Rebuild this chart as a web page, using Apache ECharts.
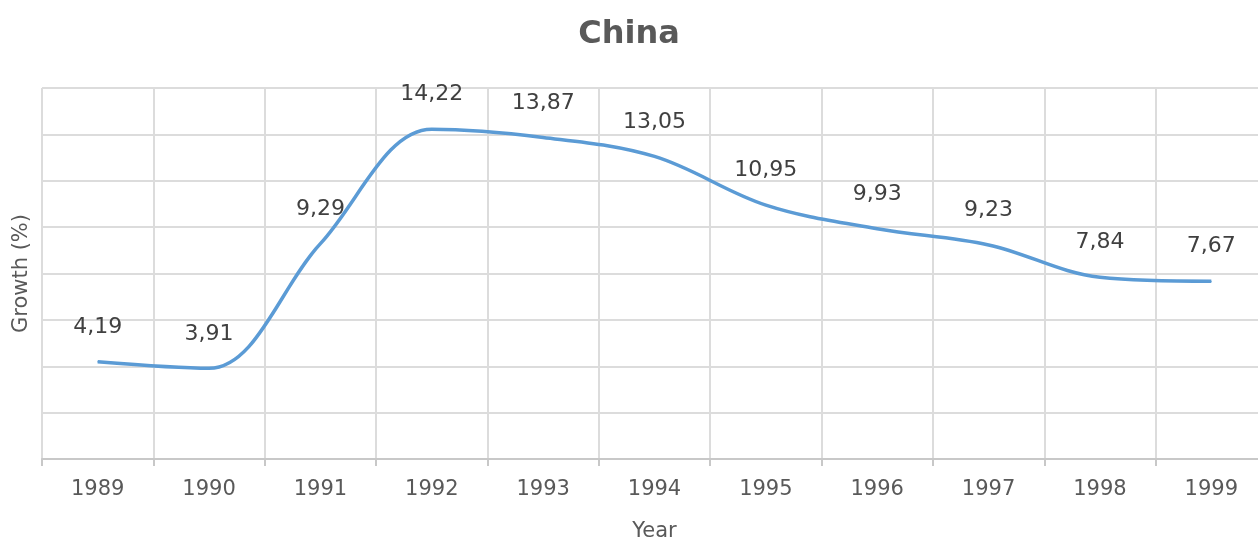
<!DOCTYPE html>
<html>
<head>
<meta charset="utf-8">
<script src="https://cdn.jsdelivr.net/npm/echarts@6/dist/echarts.min.js"></script>
<style>
    html, body { margin: 0; padding: 0; background: #fff; }
    #chart_line { width: 1258px; height: 541px; }
</style>
</head>
<body>
<div id="chart_line"></div>
<script>
// 数据
var years = ['1989', '1990', '1991', '1992', '1993', '1994', '1995', '1996', '1997', '1998', '1999'];
var growth = [4.19, 3.91, 9.29, 14.22, 13.87, 13.05, 10.95, 9.93, 9.23, 7.84, 7.67];

var chart = echarts.init(document.getElementById('chart_line'));

var font = 'DejaVu Sans';

var option = {
    animation: false,
    title: {
        text: 'China',
        left: 'center',
        top: 14,
        textStyle: {
            fontFamily: font,
            fontSize: 32,
            fontWeight: 'bold',
            color: '#595959'
        }
    },
    // 绘图区 (右侧超出画布)
    grid: {
        left: 42,
        top: 88,
        width: 1225,
        bottom: 82,
        outerBoundsMode: 'none'
    },
    xAxis: {
        type: 'category',
        data: years,
        boundaryGap: true,
        name: 'Year',
        nameLocation: 'middle',
        nameGap: 62,
        nameTextStyle: {
            fontFamily: font,
            fontSize: 21,
            color: '#595959'
        },
        axisLine: { lineStyle: { color: '#c8c8c8', width: 2 } },
        axisTick: { show: true, length: 7, lineStyle: { color: '#c8c8c8', width: 2 } },
        axisLabel: {
            margin: 20,
            fontFamily: font,
            fontSize: 21,
            color: '#595959'
        },
        splitLine: { show: true, lineStyle: { color: '#dcdcdc', width: 2 } }
    },
    yAxis: {
        type: 'value',
        min: 0,
        max: 16,
        interval: 2,
        name: 'Growth (%)',
        nameLocation: 'middle',
        nameGap: 10,
        nameTextStyle: {
            fontFamily: font,
            fontSize: 21,
            color: '#595959'
        },
        axisLine: { show: false },
        axisTick: { show: false },
        axisLabel: { show: false },
        splitLine: { lineStyle: { color: '#dcdcdc', width: 2 } }
    },
    series: [{
        name: 'Growth',
        type: 'line',
        data: growth,
        smooth: 0.35,
        symbol: 'circle',
        symbolSize: 1,
        lineStyle: { color: '#5b9bd5', width: 3.5 },
        itemStyle: { color: '#5b9bd5' },
        label: {
            show: true,
            position: 'top',
            distance: 23,
            fontFamily: font,
            fontSize: 22,
            color: '#404040',
            formatter: function (p) {
                return p.value.toFixed(2).replace('.', ',');
            }
        }
    }]
};

chart.setOption(option);
</script>
</body>
</html>
